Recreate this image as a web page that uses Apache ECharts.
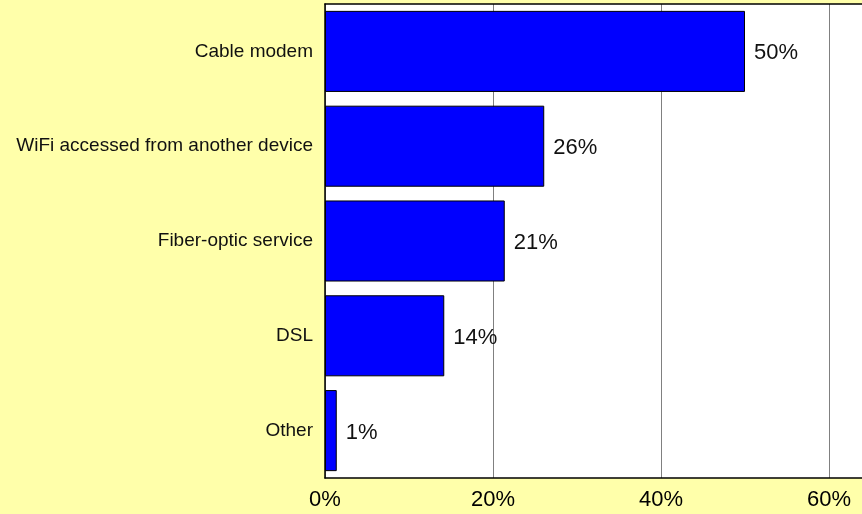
<!DOCTYPE html>
<html><head><meta charset="utf-8">
<script src="https://cdn.jsdelivr.net/npm/echarts@6/dist/echarts.min.js"></script>
<style>html,body{margin:0;padding:0;background:#FFFFAA;}#c{width:862px;height:514px;}</style>
</head><body><div id="c"></div>
<script>
var categories = ["Cable modem", "WiFi accessed from another device", "Fiber-optic service", "DSL", "Other"];
var values = [50, 26.1, 21.4, 14.2, 1.4];
var tickValues = [0, 20, 40, 60];

var font = 'Liberation Sans, Arial, sans-serif';
var chart = echarts.init(document.getElementById('c'));
chart.setOption({
  backgroundColor: '#FFFFAA',
  animation: false,
  grid: { left: 325, top: 4, right: 0, bottom: 36, show: true, backgroundColor: '#FFFFFF', borderWidth: 0, containLabel: false },
  xAxis: [{
    type: 'value', min: 0, max: 63.93, interval: 20,
    axisLine: { show: true, lineStyle: { color: '#000', width: 1.5 } },
    axisTick: { show: false },
    splitLine: { show: true, lineStyle: { color: '#808080', width: 1 } },
    axisLabel: { showMaxLabel: false, formatter: function(v){ return tickValues.indexOf(v) >= 0 ? v + '%' : ''; }, color: '#000', fontSize: 22, fontFamily: font, margin: 11 }
  }, {
    type: 'value', position: 'top', min: 0, max: 63.93, interval: 20,
    axisLine: { show: true, lineStyle: { color: '#000', width: 1.5 } },
    axisTick: { show: false }, axisLabel: { show: false }, splitLine: { show: false }
  }],
  yAxis: {
    type: 'category', inverse: true, data: categories,
    axisLine: { show: true, lineStyle: { color: '#000', width: 1.5 } },
    axisTick: { show: false },
    axisLabel: { color: '#111', fontSize: 19, fontFamily: font, margin: 12, padding: [4, 0, 0, 0] }
  },
  series: [{
    type: 'bar', data: values, barCategoryGap: '14.5%', xAxisIndex: 0,
    itemStyle: { color: '#0000FF', borderColor: '#000', borderWidth: 1 },
    label: { show: true, position: 'right', distance: 9, offset: [0, 2], color: '#111', fontSize: 22, fontFamily: font, formatter: function(p){ return Math.round(p.value) + '%'; } }
  }]
});
</script></body></html>
